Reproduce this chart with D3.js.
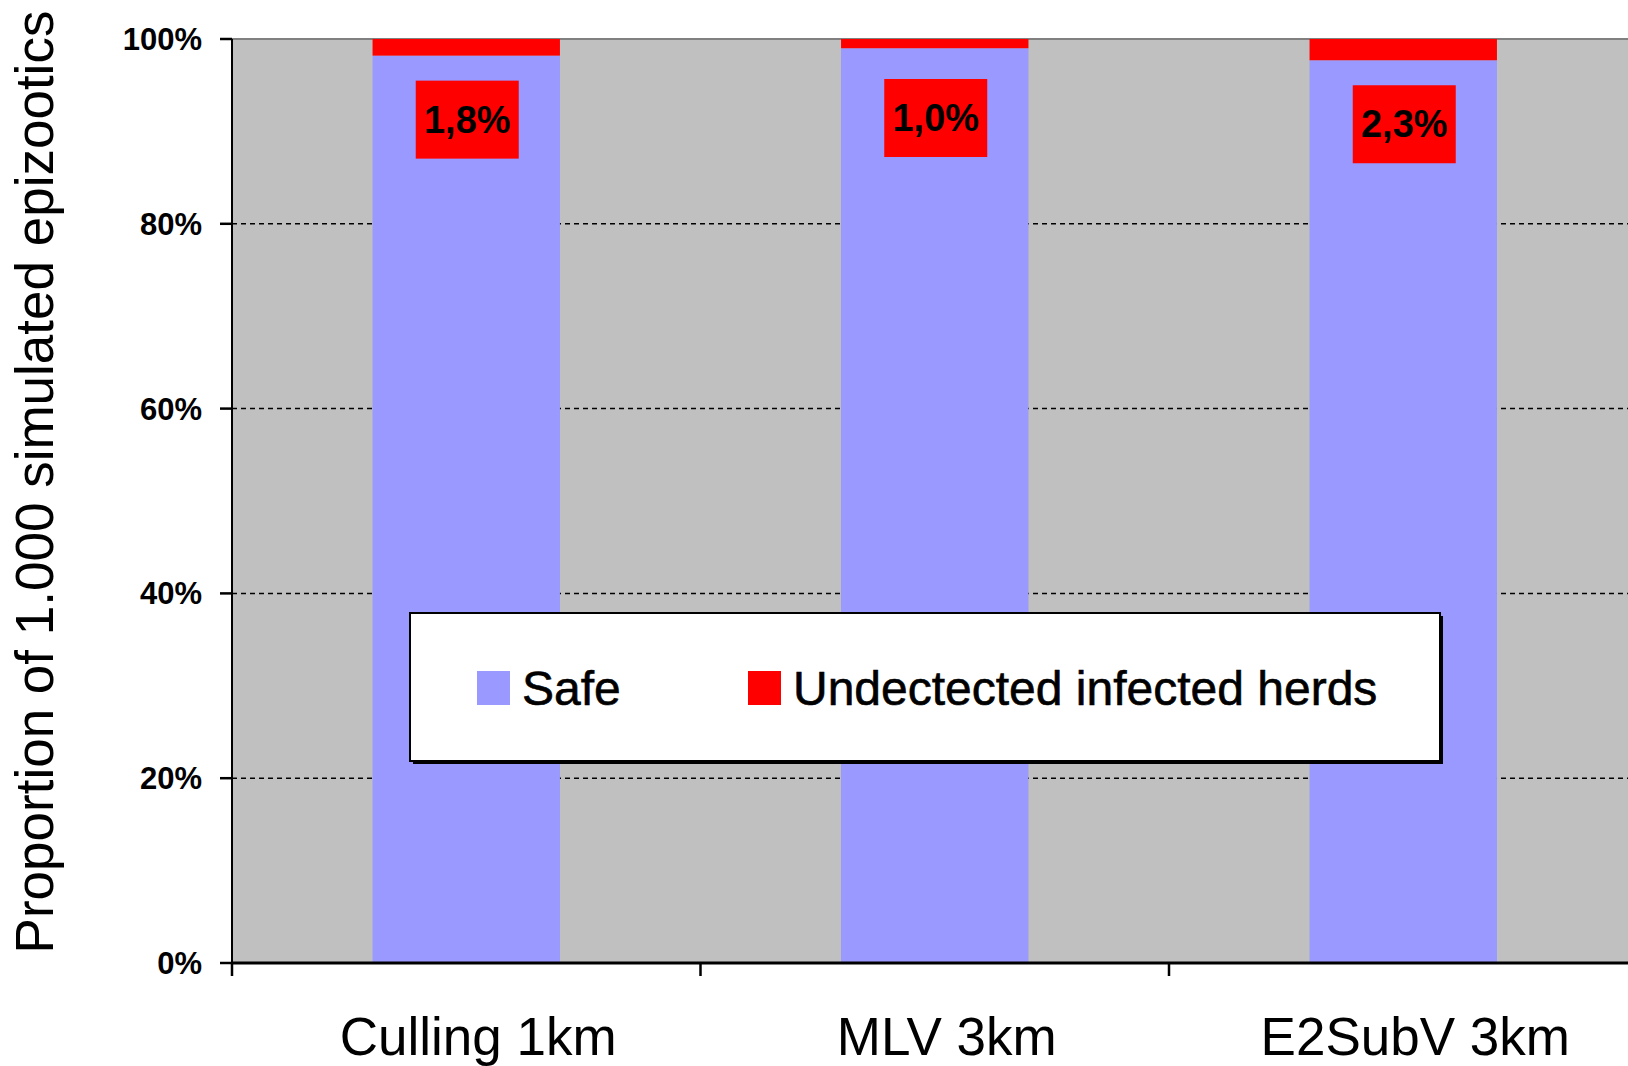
<!DOCTYPE html>
<meta charset="utf-8">
<style>
body { margin: 0; background: #fff; }
svg { display: block; font-family: "Liberation Sans", Arial, sans-serif; }
.grid line { stroke: #000; stroke-width: 1.5px; stroke-dasharray: 5,4; }
.ytick text { font-size: 31px; font-weight: bold; }
.xlab { font-size: 53px; }
.pct { font-size: 38px; font-weight: bold; }
.leg text { font-size: 48px; }
</style>
<body>
<svg width="1628" height="1066"></svg>
<script src="https://d3js.org/d3.v7.min.js"></script>
<script>
var categories = ["Culling 1km", "MLV 3km", "E2SubV 3km"];
var safe = [98.2, 99.0, 97.7];
var undetected = [1.8, 1.0, 2.3];
var pctLabels = ["1,8%", "1,0%", "2,3%"];
var yTicks = [0, 20, 40, 60, 80, 100];
var legendNames = ["Safe", "Undectected infected herds"];

var svg = d3.select("svg"),
    plotLeft = 232, plotTop = 39, plotBottom = 963, plotRight = 1637.5;

var x = d3.scaleBand().domain(categories).range([plotLeft, plotRight])
    .paddingInner(0.6).paddingOuter(0.3);
var y = d3.scaleLinear().domain([0, 100]).range([plotBottom, plotTop]);
var step = x.step();

// plot background
svg.append("rect")
    .attr("x", plotLeft).attr("y", plotTop)
    .attr("width", plotRight - plotLeft).attr("height", plotBottom - plotTop)
    .attr("fill", "#C0C0C0");

// dashed gridlines
svg.append("g").attr("class", "grid")
  .selectAll("line").data(yTicks.filter(function(d) { return d > 0 && d < 100; }))
  .enter().append("line")
    .attr("x1", plotLeft).attr("x2", plotRight)
    .attr("y1", function(d) { return y(d); })
    .attr("y2", function(d) { return y(d); });

svg.append("line")
    .attr("x1", plotLeft).attr("x2", plotRight)
    .attr("y1", y(100)).attr("y2", y(100))
    .attr("stroke", "#808080").attr("stroke-width", 2);

// bars
var bars = svg.append("g");
bars.selectAll(".safe").data(categories).enter().append("rect")
    .attr("x", function(d) { return x(d); })
    .attr("width", x.bandwidth())
    .attr("y", function(d, i) { return y(safe[i]); })
    .attr("height", function(d, i) { return y(0) - y(safe[i]); })
    .attr("fill", "#9999FF");
bars.selectAll(".und").data(categories).enter().append("rect")
    .attr("x", function(d) { return x(d); })
    .attr("width", x.bandwidth())
    .attr("y", function(d, i) { return y(safe[i] + undetected[i]); })
    .attr("height", function(d, i) { return y(safe[i]) - y(safe[i] + undetected[i]); })
    .attr("fill", "#FF0000");

// percent boxes
var boxW = 103, boxH = 78;
var box = svg.append("g").selectAll("g").data(categories).enter().append("g")
    .attr("transform", function(d, i) {
      var t = Math.max(y(safe[i]) + 25, y(100) + 40);
      return "translate(" + (x(d) + x.bandwidth() / 2) + "," + t + ")";
    });
box.append("rect")
    .attr("x", -boxW / 2 + 1).attr("width", boxW).attr("height", boxH)
    .attr("fill", "#FF0000");
box.append("text").attr("class", "pct")
    .attr("x", 1).attr("y", boxH / 2 + 13)
    .attr("text-anchor", "middle")
    .text(function(d, i) { return pctLabels[i]; });

// y axis
svg.append("line")
    .attr("x1", plotLeft).attr("x2", plotLeft).attr("y1", plotTop).attr("y2", plotBottom)
    .attr("stroke", "#000").attr("stroke-width", 2);
var yt = svg.append("g").selectAll("g").data(yTicks).enter().append("g")
    .attr("class", "ytick")
    .attr("transform", function(d) { return "translate(0," + y(d) + ")"; });
yt.append("line").attr("x1", plotLeft - 12).attr("x2", plotLeft)
    .attr("stroke", "#000").attr("stroke-width", 2.5);
yt.append("text").attr("x", 202).attr("y", 11)
    .attr("text-anchor", "end")
    .text(function(d) { return d + "%"; });

// x axis
svg.append("line")
    .attr("x1", plotLeft).attr("x2", 1628).attr("y1", plotBottom).attr("y2", plotBottom)
    .attr("stroke", "#000").attr("stroke-width", 3);
svg.append("g").selectAll("line").data(categories).enter().append("line")
    .attr("x1", function(d) { return x(d) - x.paddingOuter() * step; })
    .attr("x2", function(d) { return x(d) - x.paddingOuter() * step; })
    .attr("y1", plotBottom).attr("y2", plotBottom + 13)
    .attr("stroke", "#000").attr("stroke-width", 2.5);
svg.append("g").selectAll("text").data(categories).enter().append("text")
    .attr("class", "xlab")
    .attr("x", function(d) { return x(d) + x.bandwidth() / 2 + 12; })
    .attr("y", 1055)
    .attr("text-anchor", "middle")
    .text(function(d) { return d; });

// y title
svg.append("text").attr("class", "xlab")
    .attr("transform", "translate(53,482) rotate(-90)")
    .attr("text-anchor", "middle")
    .text("Proportion of 1.000 simulated epizootics");

// legend
var leg = svg.append("g").attr("class", "leg");
leg.append("rect").attr("x", 413).attr("y", 616).attr("width", 1030).attr("height", 148)
    .attr("fill", "#000");
leg.append("rect").attr("x", 410).attr("y", 613).attr("width", 1030).attr("height", 148)
    .attr("fill", "#fff").attr("stroke", "#000").attr("stroke-width", 2);
var swatchX = [477, 748], swatchColors = ["#9999FF", "#FF0000"];
var li = leg.selectAll(".item").data(legendNames).enter().append("g");
li.append("rect")
    .attr("x", function(d, i) { return swatchX[i]; })
    .attr("y", 671).attr("width", 33).attr("height", 34)
    .attr("fill", function(d, i) { return swatchColors[i]; });
li.append("text")
    .attr("x", function(d, i) { return swatchX[i] + 45; })
    .attr("y", 705)
    .attr("stroke", "#000").attr("stroke-width", 0.6)
    .text(function(d) { return d; });
</script>
</body>
